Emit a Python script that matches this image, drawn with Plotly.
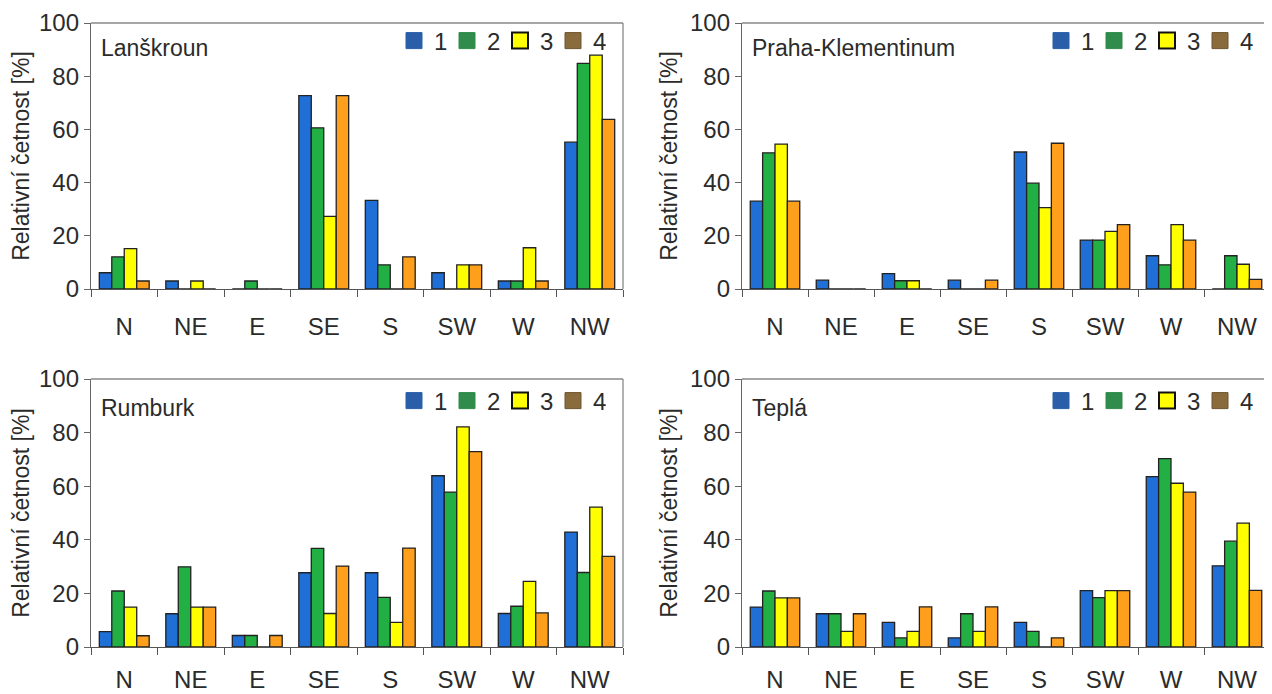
import plotly.graph_objects as go

categories = ["N", "NE", "E", "SE", "S", "SW", "W", "NW"]
series_names = ["1", "2", "3", "4"]

stations = ["Lanškroun", "Praha-Klementinum", "Rumburk", "Teplá"]

lanskroun_1 = [6.1, 3.0, 0, 72.7, 33.3, 6.1, 3.0, 55.2]
lanskroun_2 = [12.1, 0, 3.0, 60.6, 9.1, 0, 3.0, 84.8]
lanskroun_3 = [15.2, 3.0, 0, 27.3, 0, 9.1, 15.5, 87.9]
lanskroun_4 = [3.0, 0, 0, 72.7, 12.1, 9.1, 3.0, 63.8]

praha_1 = [33.0, 3.3, 5.8, 3.3, 51.5, 18.4, 12.5, 0]
praha_2 = [51.2, 0, 3.1, 0, 39.8, 18.4, 9.1, 12.5]
praha_3 = [54.5, 0, 3.1, 0, 30.6, 21.7, 24.2, 9.3]
praha_4 = [33.0, 0, 0, 3.3, 54.8, 24.2, 18.4, 3.6]

rumburk_1 = [5.7, 12.4, 4.3, 27.7, 27.7, 63.9, 12.5, 42.9]
rumburk_2 = [20.9, 29.9, 4.3, 36.8, 18.5, 57.8, 15.2, 27.8]
rumburk_3 = [14.9, 14.9, 0, 12.5, 9.2, 82.1, 24.5, 52.2]
rumburk_4 = [4.2, 14.9, 4.3, 30.2, 36.9, 72.9, 12.7, 33.8]

tepla_1 = [14.9, 12.4, 9.2, 3.4, 9.2, 21.0, 63.6, 30.3]
tepla_2 = [20.9, 12.4, 3.4, 12.4, 5.8, 18.4, 70.3, 39.5]
tepla_3 = [18.3, 5.8, 5.8, 5.8, 0, 21.0, 61.1, 46.2]
tepla_4 = [18.3, 12.4, 15.0, 15.0, 3.4, 21.0, 57.8, 21.1]

y_ticks = [0, 20, 40, 60, 80, 100]
y_title = "Relativní četnost [%]"

panel_values = [
    [lanskroun_1, lanskroun_2, lanskroun_3, lanskroun_4],
    [praha_1, praha_2, praha_3, praha_4],
    [rumburk_1, rumburk_2, rumburk_3, rumburk_4],
    [tepla_1, tepla_2, tepla_3, tepla_4],
]

bar_colors = ["#1f6fd6", "#22b045", "#ffff00", "#ffa01c"]
legend_colors = ["#2b5ea8", "#2f8c4b", "#ffff00", "#8a6b3c"]
legend_lines = ["#2b5ea8", "#2f8c4b", "#111111", "#6e5530"]

FONT = "Liberation Sans, Arial, sans-serif"
TXT = "#2b2b2b"

W, H = 1272, 694
OFF = 8  # page body margin: figure is drawn starting at (8, 8) in the window
# pixel boxes of plot areas in window coordinates: (left, right, top, bottom)
boxes = [
    (91, 623, 23, 289),
    (742, 1270, 23, 289),
    (91, 623, 379, 647),
    (742, 1270, 379, 647),
]
# reference top edge used for placing the in-panel legend and station name
anchor_top = [19, 19, 379, 379]
label_standoff = [16, 16, 11, 11]


def px(xw):
    return (xw - OFF) / W


def py(yw):
    return 1 - (yw - OFF) / H


fig = go.Figure()
layout = dict(
    template="none",
    width=W, height=H,
    margin=dict(l=0, r=0, t=0, b=0, autoexpand=False),
    paper_bgcolor="white", plot_bgcolor="white",
    barmode="group", bargap=0.25, bargroupgap=0,
    font=dict(family=FONT, color=TXT, size=23),
    annotations=[],
)

for p in range(4):
    sfx = "" if p == 0 else str(p + 1)
    xa, ya = "x" + sfx, "y" + sfx
    leg = "legend" + sfx
    for s in range(4):
        fig.add_trace(go.Bar(
            x=categories, y=panel_values[p][s], name=series_names[s],
            marker=dict(color=bar_colors[s], line=dict(color="#222222", width=1.3)),
            xaxis=xa, yaxis=ya, showlegend=False, hoverinfo="x+y",
        ))
    for s in range(4):
        fig.add_trace(go.Scatter(
            x=[None], y=[None], mode="markers", name=series_names[s],
            marker=dict(symbol="square", size=16, color=legend_colors[s],
                        line=dict(color=legend_lines[s], width=2 if s == 2 else 1)),
            xaxis=xa, yaxis=ya, legend=leg, showlegend=True,
        ))
    l, r, t, b = boxes[p]
    ta = anchor_top[p]
    xdom = [px(l), px(r)]
    ydom = [py(b), py(t)]
    layout["xaxis" + sfx] = dict(
        domain=xdom, anchor=ya, type="category", automargin=False,
        categoryorder="array", categoryarray=categories,
        range=[-0.5, 7.5],
        showline=True, linecolor="#555555", linewidth=1.3, mirror=False,
        ticks="outside", tickson="boundaries", ticklen=7, tickcolor="#555555",
        ticklabelstandoff=label_standoff[p], ticklabeloverflow="allow",
        tickfont=dict(size=24, color=TXT, family=FONT),
        showgrid=False, zeroline=False,
    )
    layout["yaxis" + sfx] = dict(
        domain=ydom, anchor=xa, range=[0, 100], automargin=False,
        tickvals=y_ticks, ticklabeloverflow="allow",
        showline=True, linecolor="#666666", linewidth=1.3, mirror=False,
        ticks="outside", ticklen=6, tickcolor="#666666",
        tickfont=dict(size=24, color=TXT, family=FONT),
        showgrid=False, zeroline=False,
        title=dict(text=y_title, font=dict(size=23, color=TXT, family=FONT), standoff=5),
    )
    layout[leg] = dict(
        orientation="h", x=px(r - 17), xanchor="right",
        y=py(ta + 22), yanchor="middle",
        bgcolor="rgba(0,0,0,0)", font=dict(size=24, color=TXT, family=FONT),
        itemwidth=30, tracegroupgap=0, entrywidth=8, entrywidthmode="pixels",
    )
    layout["annotations"].append(dict(
        text=stations[p], x=px(l + 8), y=py(ta + 29),
        xref="paper", yref="paper", xanchor="left", yanchor="middle",
        showarrow=False, font=dict(size=23, color=TXT, family=FONT),
    ))

fig.update_layout(**layout)

# plot-area frames (top + right lines)
for p in range(4):
    sfx = "" if p == 0 else str(p + 1)
    fig.add_shape(type="line", xref="x" + sfx + " domain", yref="y" + sfx + " domain",
                  x0=0, x1=1, y0=1, y1=1, line=dict(color="#888888", width=1.3))
    fig.add_shape(type="line", xref="x" + sfx + " domain", yref="y" + sfx + " domain",
                  x0=1, x1=1, y0=0, y1=1, line=dict(color="#888888", width=1.3))

fig.write_html("out.html")
